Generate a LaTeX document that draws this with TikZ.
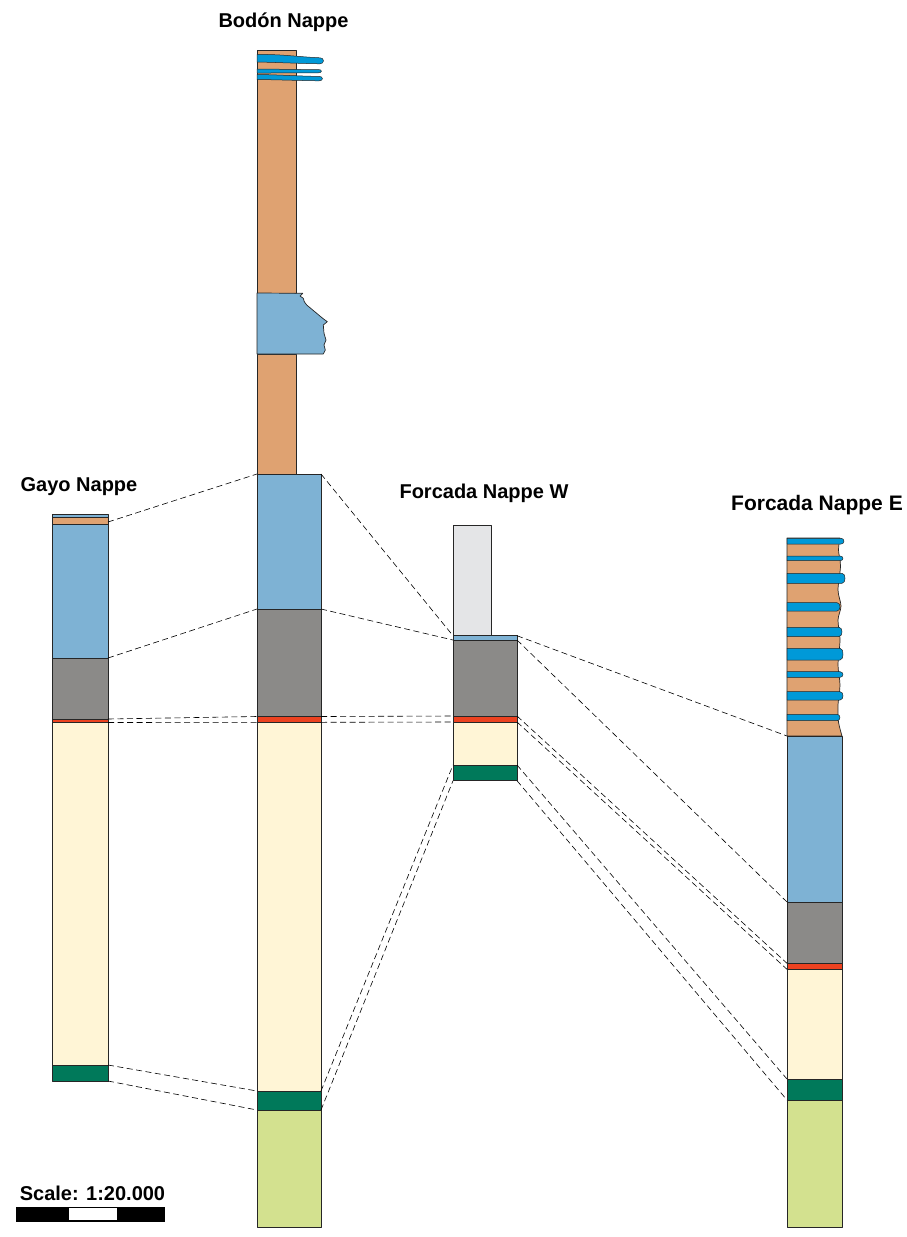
\documentclass[tikz,border=0pt]{standalone}
\usepackage{fontspec}
\setmainfont{Liberation Sans}
\definecolor{tan}{HTML}{DFA271}
\definecolor{lblue}{HTML}{7EB2D4}
\definecolor{dblue}{HTML}{0099D8}
\definecolor{shale}{HTML}{8B8A88}
\definecolor{redbed}{HTML}{EC4220}
\definecolor{cream}{HTML}{FFF5D6}
\definecolor{dgreen}{HTML}{00795A}
\definecolor{lgreen}{HTML}{D3E18F}
\definecolor{lgray}{HTML}{E4E5E7}

\begin{document}
\begin{tikzpicture}[x=1pt,y=-1pt,line join=round,
  bed/.style={draw=black!85,line width=0.7pt},
  corr/.style={line width=0.6pt,dash pattern=on 6pt off 3.5pt},
  title/.style={font=\fontsize{20}{24}\selectfont\bfseries,anchor=base}]
\useasboundingbox (0,0) rectangle (907,1237);

% Gayo Nappe
\foreach \t/\b/\c in {514/517.5/lblue,517.5/524/tan,524/658/lblue,658/719/shale,
                      719/722.5/redbed,722.5/1065/cream,1065/1081/dgreen}
    \filldraw[bed,fill=\c] (52,\t) rectangle (108,\b);

% Bodon Nappe, upper narrow part
\filldraw[bed,fill=tan] (257,50) rectangle (296,293);
\filldraw[bed,fill=tan] (257,354) rectangle (296,474);
\filldraw[bed,fill=lblue] (257,293) -- (302.7,293.3) -- (300,296) -- (303.3,298.3)
    -- (304.3,301.7) -- (306.7,305) -- (310.7,308.3) -- (316.7,313.3) -- (322.7,318.3)
    -- (327.3,321.7) -- (323.3,325) -- (324,333.3) -- (326,340) -- (324,345)
    -- (325.3,350) -- (323.3,354) -- (257,354) -- cycle;
% limestone tongues
\filldraw[bed,fill=dblue,line width=0.5pt] (257,54.5) .. controls (280,54) and (300,57) .. (320,57.8)
    to[out=0,in=90] (323.5,60.8) to[out=-90,in=0] (320,63.8)
    .. controls (300,63.5) and (280,62.5) .. (257,62) -- cycle;
\filldraw[bed,fill=dblue,line width=0.5pt] (257,69) .. controls (280,69.2) and (300,69.6) .. (318,69.6)
    to[out=0,in=90] (321.5,71.2) to[out=-90,in=0] (318,72.8)
    .. controls (300,73) and (280,73) .. (257,73) -- cycle;
\filldraw[bed,fill=dblue,line width=0.5pt] (257,74.5) .. controls (280,74.8) and (300,76.2) .. (319,76.4)
    to[out=0,in=90] (322.5,78.6) to[out=-90,in=0] (319,80.8)
    .. controls (300,80.6) and (280,79.8) .. (257,79.5) -- cycle;

% Bodon Nappe, lower wide part
\foreach \t/\b/\c in {474/609/lblue,609/716.5/shale,716.5/722.3/redbed,
                      722.3/1091/cream,1091/1110/dgreen,1110/1227/lgreen}
    \filldraw[bed,fill=\c] (257,\t) rectangle (321,\b);

% Forcada Nappe W
\filldraw[bed,fill=lgray] (453,525.7) rectangle (491.7,635.7);
\foreach \t/\b/\c in {635.7/640/lblue,640/716/shale,716/722/redbed,
                      722/765/cream,765/780.7/dgreen}
    \filldraw[bed,fill=\c] (453,\t) rectangle (517,\b);

% Forcada Nappe E
\filldraw[bed,fill=tan] (787,538)
    -- plot[smooth] coordinates {(840,538) (838.5,550) (840.5,566) (838,590) (841,606)
                                 (838,620) (840,640) (838,665) (840,685) (838,705)
                                 (838.5,722) (842,736)}
    -- (787,736) -- cycle;
\foreach \t/\b/\r in {538.3/544/844,556/560.7/843,573.3/583.3/845,602.7/611/840,
                      627.3/636.5/842,648.3/660/843,671.7/677.3/843,691.7/700/843,
                      714.3/720.7/840}
    \filldraw[bed,fill=dblue,line width=0.5pt] (787,\t) -- (\r-3,\t)
        to[out=0,in=90] (\r,{(\t+\b)/2}) to[out=-90,in=0] (\r-3,\b) -- (787,\b) -- cycle;
\foreach \t/\b/\c in {736/902/lblue,902/963.3/shale,963.3/969.3/redbed,
                      969.3/1079/cream,1079/1100/dgreen,1100/1227/lgreen}
    \filldraw[bed,fill=\c] (787,\t) rectangle (842,\b);

% contacts used for correlation
\coordinate (gA) at (108,522);  \coordinate (gB) at (108,658);
\coordinate (gC) at (108,719);  \coordinate (gD) at (108,722.5);
\coordinate (gE) at (108,1065); \coordinate (gF) at (108,1081);
\coordinate (bA) at (257,474);  \coordinate (bB) at (257,609);
\coordinate (bC) at (257,716.5);\coordinate (bD) at (257,722.3);
\coordinate (bE) at (257,1091); \coordinate (bF) at (257,1110);
\coordinate (bA') at (321,474); \coordinate (bB') at (321,609);
\coordinate (bC') at (321,716.5);\coordinate (bD') at (321,722.3);
\coordinate (bE') at (321,1091);\coordinate (bF') at (321,1110);
\coordinate (wA) at (453,635.7);\coordinate (wB) at (453,640);
\coordinate (wC) at (453,716);  \coordinate (wD) at (453,722);
\coordinate (wE) at (453,765);  \coordinate (wF) at (453,780.7);
\coordinate (wA') at (517,635.7);\coordinate (wB') at (517,640);
\coordinate (wC') at (517,716); \coordinate (wD') at (517,722);
\coordinate (wE') at (517,765); \coordinate (wF') at (517,780.7);
\coordinate (eA) at (787,736);  \coordinate (eB) at (787,902);
\coordinate (eC) at (787,963.3);\coordinate (eD) at (787,969.3);
\coordinate (eE) at (787,1079); \coordinate (eF) at (787,1100);

\foreach \p in {A,B,C,D,E,F}
{
    \draw[corr] (g\p) -- (b\p);
    \draw[corr] (b\p') -- (w\p);
    \draw[corr] (w\p') -- (e\p);
}

% titles
\node[title] (tBodon) at (283.5,27) {Bodón Nappe};
\node[title] (tGayo) at (79,491) {Gayo Nappe};
\node[title] (tForW) at (484,498) {Forcada Nappe W};
\node[title,font=\fontsize{21}{25}\selectfont\bfseries] (tForE) at (817,510) {Forcada Nappe E};

% scale bar
\node[title] (tScale) at (92.5,1200) {Scale: 1:20.000};
\fill[black] (16,1206.7) rectangle (165,1221.7);
\fill[white] (69.3,1208.3) rectangle (116.7,1220);
\end{tikzpicture}
\end{document}
